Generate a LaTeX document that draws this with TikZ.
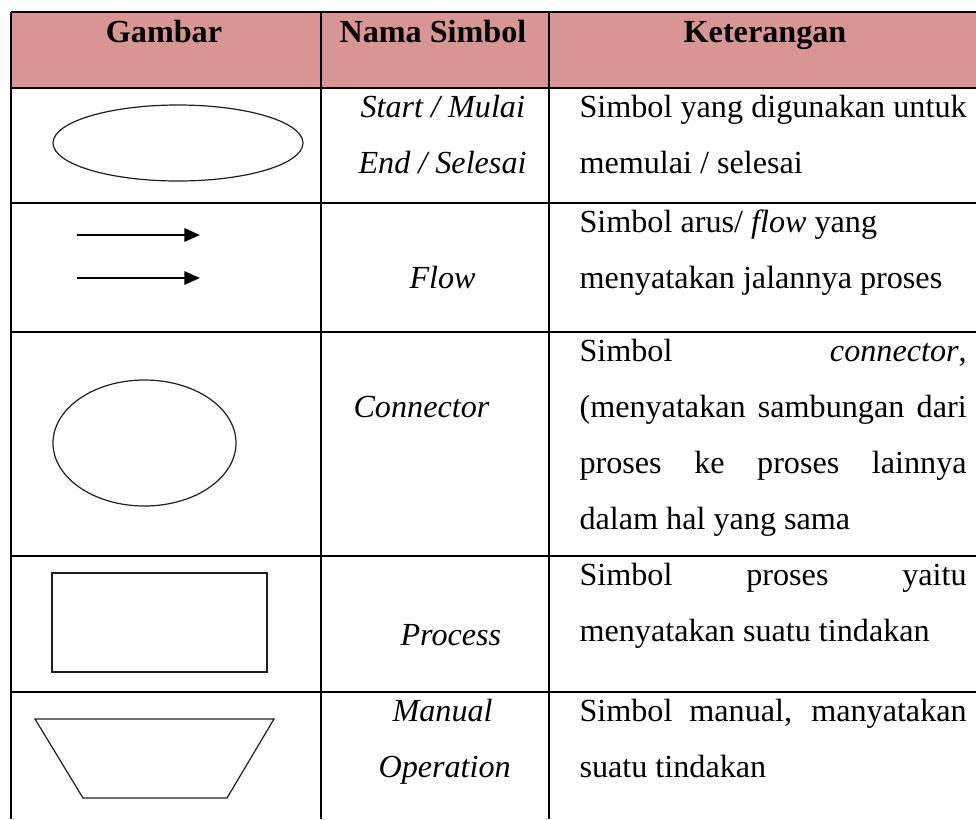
\documentclass[tikz,border=0pt]{standalone}
\usepackage{fontspec}
\setmainfont{Liberation Serif}
\usepackage{tikz}
\usetikzlibrary{arrows.meta,positioning}
\definecolor{headerrose}{RGB}{217, 149, 148}
\definecolor{gridblack}{RGB}{0, 0, 0}
\definecolor{shapegray}{RGB}{30, 30, 30}
\newcommand{\justline}[1]{\makebox[144.4pt][s]{#1}}

\begin{document}
\begin{tikzpicture}[x=0.373pt,y=-0.373pt,
    cell/.style={anchor=base west,inner sep=0pt,font=\fontsize{12}{14}\selectfont},
    namecell/.style={cell,font=\fontsize{12}{14}\selectfont\itshape},
    headcell/.style={anchor=base,inner sep=0pt,font=\fontsize{12}{14}\selectfont\bfseries},
    gridline/.style={line width=0.75pt,gridblack},
    symbol/.style={line width=0.45pt,shapegray},
    flowarrow/.style={line width=0.8pt,-{Triangle[length=5.8pt,width=4.9pt]}}]
    \useasboundingbox (0,0) rectangle (976,819);

    % Header background
    \fill[headerrose] (11,12) rectangle (981,88);

    % Table grid
    \foreach \yy in {12,88,203,332,556,692}
        \draw[gridline] (11,\yy) -- (981,\yy);
    \foreach \xx in {11,321,549}
        \draw[gridline] (\xx,12) -- (\xx,819);

    % Header texts
    \node[headcell] (hGambar) at (164,42) {Gambar};
    \node[headcell] (hNama) at (433,42) {Nama Simbol};
    \node[headcell] (hKet) at (765,42) {Keterangan};

    % Row 1: terminator
    \draw[symbol] (178,143) ellipse [x radius=125, y radius=38];
    \node[namecell] (nStart) at (360,117) {Start / Mulai};
    \node[namecell] (nEnd) at (358,173) {End / Selesai};
    \node[cell] (kStart1) at (579,117) {\justline{Simbol yang digunakan untuk}};
    \node[cell] (kStart2) at (579,173) {memulai / selesai};

    % Row 2: flow
    \coordinate (flowA1) at (77,235);
    \coordinate (flowA2) at (200,235);
    \coordinate (flowB1) at (77,278);
    \coordinate (flowB2) at (200,278);
    \draw[flowarrow] (flowA1) -- (flowA2);
    \draw[flowarrow] (flowB1) -- (flowB2);
    \node[namecell] (nFlow) at (409,288) {Flow};
    \node[cell] (kFlow1) at (579,232) {Simbol arus/ \textit{flow} yang};
    \node[cell] (kFlow2) at (579,288) {menyatakan jalannya proses};

    % Row 3: connector
    \draw[symbol] (144.5,443) ellipse [x radius=91.5, y radius=63];
    \node[namecell] (nConn) at (353,417) {Connector};
    \node[cell] (kConn1) at (579,361) {\justline{Simbol \textit{connector},}};
    \node[cell] (kConn2) at (579,417) {\justline{(menyatakan sambungan dari}};
    \node[cell] (kConn3) at (579,473) {\justline{proses ke proses lainnya}};
    \node[cell] (kConn4) at (579,529) {dalam hal yang sama};

    % Row 4: process
    \draw[symbol] (52,573) rectangle (267,672);
    \node[namecell] (nProc) at (400,645) {Process};
    \node[cell] (kProc1) at (579,585) {\justline{Simbol proses yaitu}};
    \node[cell] (kProc2) at (579,641) {menyatakan suatu tindakan};

    % Row 5: manual operation
    \draw[symbol] (35,719) -- (274,719) -- (227,798) -- (83,798) -- cycle;
    \node[namecell] (nMan1) at (392,721) {Manual};
    \node[namecell] (nMan2) at (378,777) {Operation};
    \node[cell] (kMan1) at (579,721) {\justline{Simbol manual, manyatakan}};
    \node[cell] (kMan2) at (579,777) {suatu tindakan};
\end{tikzpicture}
\end{document}
